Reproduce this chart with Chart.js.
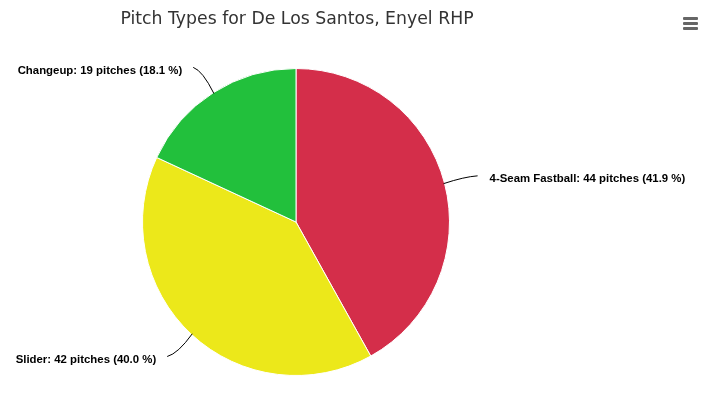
<!DOCTYPE html>
<html>
<head>
<meta charset="utf-8">
<script src="https://cdn.jsdelivr.net/npm/chart.js@4.4.0/dist/chart.umd.min.js"></script>
<style>
  html, body { margin: 0; padding: 0; background: #fff; }
  #wrap { position: relative; width: 703px; height: 394px; }
  #menu { position: absolute; left: 683px; top: 17px; width: 15px; }
  #menu div { height: 3px; background: #666; margin-bottom: 2px; border-radius: 1px; }
</style>
</head>
<body>
<div id="wrap">
  <canvas id="c" width="703" height="394"></canvas>
  <div id="menu"><div></div><div></div><div></div></div>
</div>
<script>
const chartTitle = 'Pitch Types for De Los Santos, Enyel RHP';
const categories = ['4-Seam Fastball', 'Slider', 'Changeup'];
const pitchCounts = [44, 42, 19];
const percents = [41.9, 40.0, 18.1];
const sliceColors = ['#d42e4a', '#ece81a', '#22c03c'];

const labelPlugin = {
  id: 'pieLabels',
  afterDraw(chart) {
    const ctx = chart.ctx;
    const meta = chart.getDatasetMeta(0);
    const area = chart.chartArea;
    ctx.save();
    // title
    ctx.font = '17.3px "DejaVu Sans", sans-serif';
    ctx.fillStyle = '#333333';
    ctx.textAlign = 'center';
    ctx.textBaseline = 'middle';
    ctx.fillText(chartTitle, (area.left + area.right) / 2 + 1, 20);

    ctx.font = 'bold 11.4px "Liberation Sans", Arial, sans-serif';
    ctx.fillStyle = '#000';
    ctx.strokeStyle = '#000';
    ctx.lineWidth = 1;
    meta.data.forEach((arc, i) => {
      const p = arc.getProps(['x', 'y', 'startAngle', 'endAngle', 'outerRadius'], true);
      const mid = (p.startAngle + p.endAngle) / 2;
      const cos = Math.cos(mid), sin = Math.sin(mid);
      const sx = p.x + cos * (p.outerRadius - 1);
      const sy = p.y + sin * (p.outerRadius - 1);
      const ex = p.x + cos * (p.outerRadius + 30);
      const ey = p.y + sin * (p.outerRadius + 30);
      const right = cos >= 0;
      const cx = p.x + cos * (p.outerRadius + 20);
      const cy = p.y + sin * (p.outerRadius + 26);
      ctx.beginPath();
      ctx.moveTo(sx, sy);
      ctx.quadraticCurveTo(cx, cy, ex + (right ? 4 : -4), ey);
      ctx.stroke();
      const txt = categories[i] + ': ' + pitchCounts[i] + ' pitches (' + percents[i].toFixed(1) + ' %)';
      ctx.textBaseline = 'middle';
      ctx.textAlign = right ? 'left' : 'right';
      ctx.fillText(txt, ex + (right ? 16 : -15), ey + 3);
    });
    ctx.restore();
  }
};

new Chart(document.getElementById('c'), {
  type: 'pie',
  data: {
    labels: categories,
    datasets: [{
      data: pitchCounts,
      backgroundColor: sliceColors,
      borderColor: '#ffffff',
      borderWidth: 1,
      hoverOffset: 0
    }]
  },
  options: {
    responsive: false,
    animation: false,
    events: [],
    layout: { padding: { left: 142, right: 253, top: 68, bottom: 18 } },
    plugins: {
      legend: { display: false },
      tooltip: { enabled: false },
      title: { display: false }
    }
  },
  plugins: [labelPlugin]
});
</script>
</body>
</html>
